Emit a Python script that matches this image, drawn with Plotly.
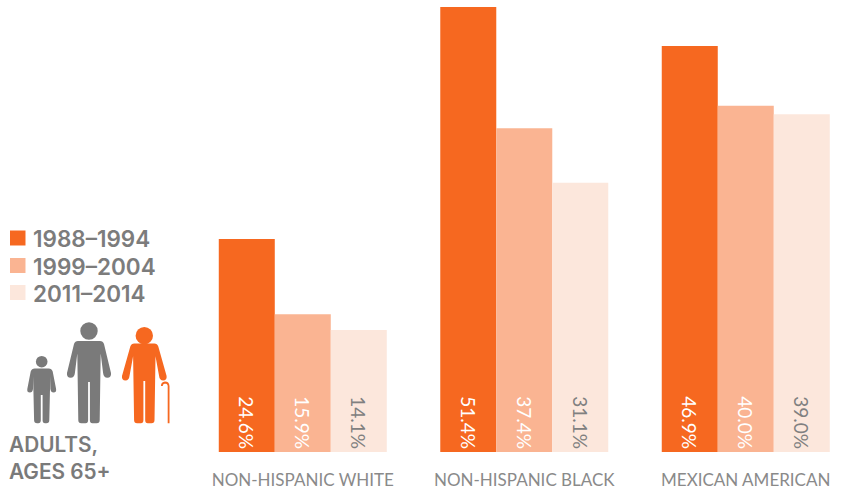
import plotly.graph_objects as go

W, H = 843, 490
BASE = 452

categories = ["NON-HISPANIC WHITE", "NON-HISPANIC BLACK", "MEXICAN AMERICAN"]
periods = ["1988–1994", "1999–2004", "2011–2014"]
values_1988 = [24.6, 51.4, 46.9]
values_1999 = [15.9, 37.4, 40.0]
values_2011 = [14.1, 31.1, 39.0]
colors = ["#F66820", "#FAB492", "#FCE7DC"]
label_colors = ["#FFFFFF", "#FFFFFF", "#808080"]
GREY = "#7A7A7A"


def px(x):
    return x / W


def py(y):
    return (BASE - y) / BASE


def person_path(cx, sy, sw, hx, hy, hr, lx, by, cy):
    """Outline of a standing figure, in reference pixels, mirrored about cx."""
    g = 0.9
    mid = sy + (hy - sy) * 0.38
    return [
        ("M", cx - sw + 3, sy),
        ("L", cx + sw - 3, sy),
        ("Q", cx + sw, sy, cx + sw + 1, sy + 3),
        ("L", cx + hx + hr, hy - 1),
        ("Q", cx + hx + hr + 0.5, hy + hr, cx + hx, hy + hr),
        ("Q", cx + hx - hr, hy + hr, cx + hx - hr - 0.5, hy - 1),
        ("L", cx + lx + 1, mid),
        ("L", cx + lx, by - 3),
        ("Q", cx + lx, by, cx + lx - 3, by),
        ("L", cx + g + 2.5, by),
        ("Q", cx + g, by, cx + g, by - 3),
        ("L", cx + g, cy),
        ("L", cx - g, cy),
        ("L", cx - g, by - 3),
        ("Q", cx - g, by, cx - g - 2.5, by),
        ("L", cx - lx + 3, by),
        ("Q", cx - lx, by, cx - lx, by - 3),
        ("L", cx - lx - 1, mid),
        ("L", cx - hx + hr + 0.5, hy - 1),
        ("Q", cx - hx + hr, hy + hr, cx - hx, hy + hr),
        ("Q", cx - hx - hr - 0.5, hy + hr, cx - hx - hr, hy - 1),
        ("L", cx - sw - 1, sy + 3),
        ("Q", cx - sw, sy, cx - sw + 3, sy),
    ]


def to_paper(segments, close=True):
    out = []
    for seg in segments:
        nums = seg[1:]
        pairs = [f"{px(nums[k]):.5f},{py(nums[k + 1]):.5f}" for k in range(0, len(nums), 2)]
        out.append(seg[0] + " ".join(pairs))
    return " ".join(out) + (" Z" if close else "")


def head(cx, cy, r, color):
    return dict(type="circle", xref="paper", yref="paper", x0=px(cx - r), x1=px(cx + r),
                y0=py(cy + r), y1=py(cy - r), fillcolor=color, line_width=0, layer="above")


def body(segments, color):
    return dict(type="path", xref="paper", yref="paper", path=to_paper(segments),
                fillcolor=color, line_width=0, layer="above")


fig = go.Figure()
for name, vals, col, lcol in zip(periods, [values_1988, values_1999, values_2011], colors, label_colors):
    fig.add_bar(
        x=categories, y=vals, name=name,
        marker=dict(color=col, line_width=0),
        text=[f"{v:.1f}%" for v in vals],
        textposition="inside", insidetextanchor="start", textangle=90,
        insidetextfont=dict(family="Lato", size=19, color=lcol),
        cliponaxis=False, hoverinfo="x+y+name",
    )

cane = [("M", 168.6, 423.3), ("L", 168.6, 386), ("Q", 168.3, 382.5, 165, 382.5), ("Q", 162, 382.8, 161.8, 386)]
shapes = [
    head(41.7, 361.7, 5.8, GREY),
    body(person_path(41.7, 368.5, 10, 11.8, 390, 2.6, 7.6, 423.3, 395), GREY),
    head(89, 331, 8.7, GREY),
    body(person_path(89, 341, 14, 18.3, 374, 3.7, 10.7, 423.3, 382), GREY),
    head(144.3, 335.7, 8.7, colors[0]),
    body(person_path(144.3, 343.5, 13, 18.8, 377, 3.5, 10.2, 423.3, 381), colors[0]),
    dict(type="path", xref="paper", yref="paper", layer="above", fillcolor="rgba(0,0,0,0)",
         line=dict(color=colors[0], width=1.8), path=to_paper(cane, close=False)),
]

annotations = []
for i, (name, col) in enumerate(zip(periods, colors)):
    yc = [238, 265.5, 292.5][i]
    shapes.append(dict(type="rect", xref="paper", yref="paper", x0=px(10), x1=px(25.5),
                       y0=py(yc + 7.5), y1=py(yc - 7.5), fillcolor=col, line_width=0))
    annotations.append(dict(text=name, xref="paper", yref="paper", x=px(31), y=py(yc + 0.5),
                            xanchor="left", yanchor="middle", showarrow=False,
                            font=dict(family="Inter", size=22.5, weight=600, color="#7C7C7C")))
for txt, yc in [("ADULTS,", 444), ("AGES 65+", 471)]:
    annotations.append(dict(text=txt, xref="paper", yref="paper", x=px(7), y=py(yc),
                            xanchor="left", yanchor="middle", showarrow=False,
                            font=dict(family="Inter", size=20.8, weight=600, color=GREY)))

fig.update_layout(
    width=W, height=H, margin=dict(l=0, r=0, t=0, b=H - BASE, pad=0),
    paper_bgcolor="white", plot_bgcolor="white", showlegend=False,
    barmode="group", bargap=0.2415, bargroupgap=0,
    shapes=shapes, annotations=annotations,
    xaxis=dict(range=[-1.367, 2.439], showgrid=False, zeroline=False, showline=False,
               automargin=False, ticks="outside", ticklen=13, tickcolor="rgba(0,0,0,0)",
               tickfont=dict(family="Lato", size=17, color="#8A8A8A")),
    yaxis=dict(range=[0, 52.2], visible=False, automargin=False),
)
fig.write_html("out.html", config={"displayModeBar": False},
               post_script="document.body.style.margin='0';")
